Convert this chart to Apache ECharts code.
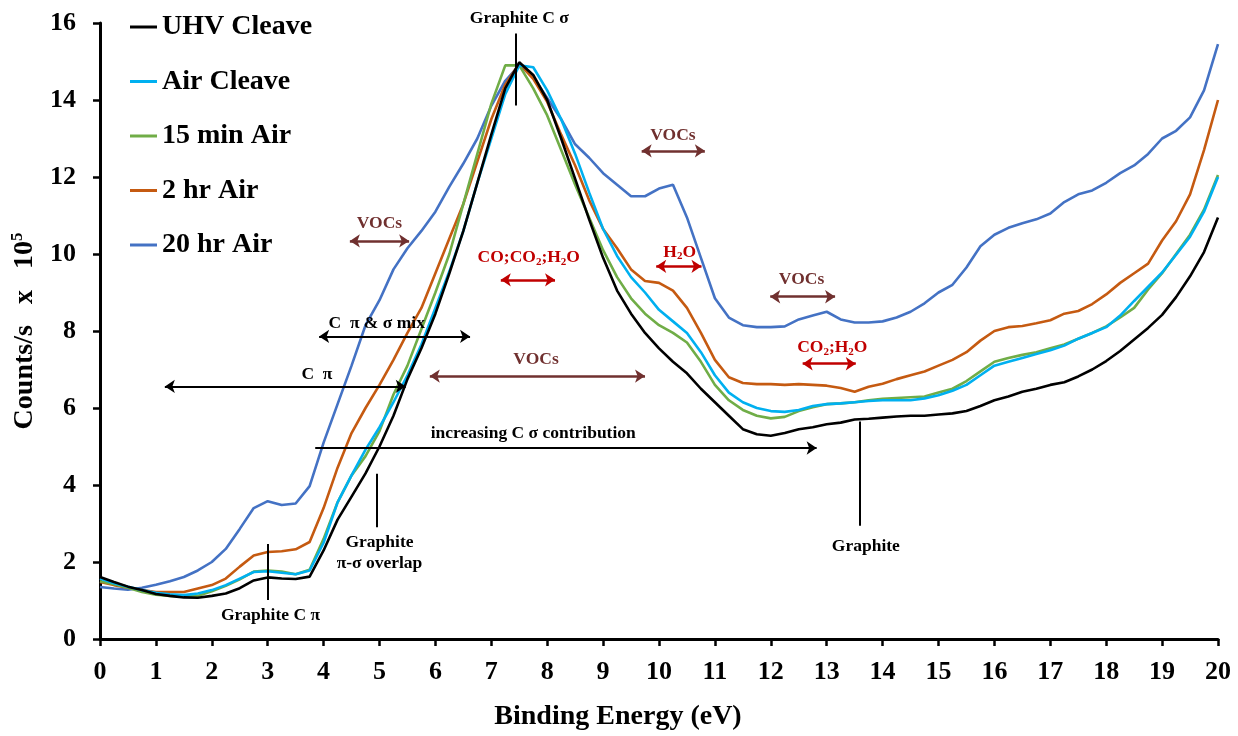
<!DOCTYPE html>
<html>
<head>
<meta charset="utf-8">
<script src="https://cdn.jsdelivr.net/npm/echarts@6/dist/echarts.min.js"></script>
<style>
html,body{margin:0;padding:0;background:#fff;}
#c{width:1238px;height:736px;}
</style>
</head>
<body>
<div id="c"></div>
<script>
// Binding energy (eV) sample positions
const energy = [0,0.25,0.5,0.75,1,1.25,1.5,1.75,2,2.25,2.5,2.75,3,3.25,3.5,3.75,4,4.25,4.5,4.75,5,5.25,5.5,5.75,6,6.25,6.5,6.75,7,7.25,7.5,7.75,8,8.25,8.5,8.75,9,9.25,9.5,9.75,10,10.25,10.5,10.75,11,11.25,11.5,11.75,12,12.25,12.5,12.75,13,13.25,13.5,13.75,14,14.25,14.5,14.75,15,15.25,15.5,15.75,16,16.25,16.5,16.75,17,17.25,17.5,17.75,18,18.25,18.5,18.75,19,19.25,19.5,19.75,20];

const seriesNames = ['UHV Cleave','Air Cleave','15 min Air','2 hr Air','20 hr Air'];

const uhvCleave = [1.61,1.48,1.36,1.27,1.17,1.12,1.08,1.07,1.12,1.18,1.32,1.52,1.60,1.57,1.56,1.62,2.30,3.10,3.70,4.30,5.00,5.80,6.75,7.55,8.45,9.50,10.60,11.85,13.10,14.30,14.98,14.65,14.00,13.00,11.95,10.90,9.90,9.05,8.45,7.95,7.55,7.20,6.90,6.50,6.15,5.80,5.45,5.32,5.28,5.35,5.45,5.50,5.58,5.62,5.70,5.72,5.75,5.78,5.80,5.80,5.83,5.86,5.92,6.05,6.20,6.30,6.42,6.50,6.60,6.67,6.82,7.00,7.22,7.48,7.78,8.08,8.42,8.88,9.42,10.05,10.95];

const airCleave = [1.57,1.45,1.36,1.27,1.20,1.16,1.14,1.18,1.27,1.40,1.57,1.74,1.76,1.72,1.68,1.78,2.50,3.55,4.25,4.92,5.50,6.15,6.85,7.65,8.60,9.55,10.60,11.85,13.00,14.15,14.90,14.85,14.25,13.50,12.60,11.60,10.65,9.95,9.40,9.00,8.55,8.25,7.95,7.45,6.85,6.40,6.15,6.00,5.92,5.90,5.95,6.05,6.10,6.12,6.15,6.18,6.20,6.20,6.20,6.25,6.33,6.45,6.60,6.85,7.10,7.20,7.30,7.40,7.50,7.62,7.80,7.95,8.10,8.40,8.78,9.15,9.52,9.98,10.45,11.10,12.00];

const air15min = [1.50,1.42,1.33,1.22,1.15,1.12,1.10,1.12,1.24,1.38,1.55,1.75,1.78,1.75,1.68,1.80,2.60,3.55,4.25,4.75,5.40,6.35,7.10,8.05,9.00,10.00,11.30,12.60,13.90,14.90,14.90,14.30,13.60,12.70,11.80,10.95,10.10,9.40,8.85,8.45,8.15,7.95,7.70,7.20,6.60,6.20,5.95,5.80,5.73,5.77,5.92,6.02,6.10,6.12,6.15,6.20,6.24,6.26,6.28,6.30,6.40,6.50,6.70,6.95,7.20,7.30,7.38,7.45,7.55,7.65,7.80,7.95,8.12,8.35,8.60,9.08,9.50,10.00,10.50,11.15,12.05];

const air2hr = [1.48,1.40,1.33,1.27,1.22,1.22,1.22,1.31,1.40,1.57,1.88,2.17,2.26,2.28,2.33,2.52,3.40,4.45,5.35,6.00,6.60,7.25,7.95,8.60,9.50,10.40,11.30,12.40,13.50,14.40,14.95,14.55,13.95,13.10,12.30,11.40,10.65,10.15,9.60,9.30,9.25,9.05,8.60,7.95,7.25,6.80,6.65,6.62,6.62,6.60,6.62,6.60,6.58,6.52,6.42,6.55,6.63,6.75,6.85,6.95,7.10,7.25,7.45,7.75,8.00,8.10,8.13,8.20,8.28,8.45,8.52,8.70,8.95,9.25,9.50,9.75,10.35,10.85,11.55,12.70,14.00];

const air20hr = [1.35,1.31,1.28,1.33,1.41,1.50,1.61,1.78,2.00,2.34,2.86,3.40,3.58,3.48,3.52,3.97,5.10,6.10,7.10,8.15,8.80,9.60,10.15,10.60,11.10,11.75,12.35,13.00,13.85,14.50,14.90,14.60,14.05,13.50,12.85,12.50,12.10,11.80,11.50,11.50,11.70,11.80,10.95,9.90,8.85,8.35,8.15,8.10,8.10,8.12,8.30,8.40,8.50,8.30,8.22,8.22,8.25,8.35,8.50,8.72,9.00,9.20,9.65,10.20,10.50,10.68,10.80,10.90,11.05,11.35,11.55,11.65,11.85,12.10,12.30,12.60,13.00,13.20,13.55,14.25,15.45];

const xTicks = [0,1,2,3,4,5,6,7,8,9,10,11,12,13,14,15,16,17,18,19,20];
const yTicks = [0,2,4,6,8,10,12,14,16];

// Annotations (data coordinates)
const arrowLines = [
  {from:[9.69,12.68], to:[10.82,12.68], kind:'voc', ends:'both'},
  {from:[9.95,9.68], to:[10.76,9.68], kind:'red', ends:'both'},
  {from:[7.17,9.33], to:[8.14,9.33], kind:'red', ends:'both'},
  {from:[11.99,8.89], to:[13.15,8.89], kind:'voc', ends:'both'},
  {from:[12.57,7.15], to:[13.52,7.15], kind:'red', ends:'both'},
  {from:[4.47,10.34], to:[5.53,10.34], kind:'voc', ends:'both'},
  {from:[3.92,7.86], to:[6.62,7.86], kind:'blk', ends:'both'},
  {from:[1.16,6.56], to:[5.47,6.56], kind:'blk', ends:'both'},
  {from:[5.90,6.83], to:[9.75,6.83], kind:'voc', ends:'both'},
  {from:[3.85,4.96], to:[12.82,4.96], kind:'blk', ends:'end'},
  {from:[7.44,15.73], to:[7.44,13.86], kind:'blk', ends:'none'},
  {from:[3.0,2.47], to:[3.0,1.01], kind:'blk', ends:'none'},
  {from:[4.95,4.29], to:[4.95,2.90], kind:'blk', ends:'none'},
  {from:[13.6,5.65], to:[13.6,2.94], kind:'blk', ends:'none'}
];
const noteTexts = [
  {at:[7.5,16.0], text:'{k|Graphite C σ}', dy:-5},
  {at:[10.25,13.08], text:'{v|VOCs}', dy:0},
  {at:[10.37,10.05], text:'{r|H}{rs|2}{r|O}', dy:0},
  {at:[7.67,9.9], text:'{r|CO;CO}{rs|2}{r|;H}{rs|2}{r|O}', dy:0},
  {at:[12.55,9.33], text:'{v|VOCs}', dy:0},
  {at:[13.1,7.58], text:'{r|CO}{rs|2}{r|;H}{rs|2}{r|O}', dy:0},
  {at:[5.0,10.8], text:'{v|VOCs}', dy:0},
  {at:[4.95,8.2], text:'{k|C  π & σ mix}', dy:0},
  {at:[3.88,6.86], text:'{k|C  π}', dy:0},
  {at:[7.8,7.26], text:'{v|VOCs}', dy:0},
  {at:[7.75,5.35], text:'{k|increasing C σ contribution}', dy:0},
  {at:[3.05,0.6], text:'{k|Graphite C π}', dy:0},
  {at:[5.0,2.5], text:'{k|Graphite}', dy:0},
  {at:[5.0,1.95], text:'{k|π-σ overlap}', dy:0},
  {at:[13.7,2.4], text:'{k|Graphite}', dy:0}
];

const FONT = '"Liberation Serif","Times New Roman",serif';
const colors = ['#000000','#00B0F0','#70AD47','#C55A11','#4472C4'];
const kindColor = {voc:'#70302F', red:'#C00000', blk:'#000000'};
const kindWidth = {voc:2.5, red:2.5, blk:2};

const allData = [uhvCleave, airCleave, air15min, air2hr, air20hr];
const lineSeries = seriesNames.map((n,i)=>({
  name:n, type:'line', symbol:'none', showSymbol:false,
  data: energy.map((e,j)=>[e, allData[i][j]]),
  lineStyle:{color:colors[i], width:2.6},
  itemStyle:{color:colors[i]},
  z: 5-i
}));

const richBase = {
  k:{fontFamily:FONT,fontWeight:'bold',fontSize:17.5,color:'#000',lineHeight:20},
  v:{fontFamily:FONT,fontWeight:'bold',fontSize:17.5,color:'#70302F',lineHeight:20},
  r:{fontFamily:FONT,fontWeight:'bold',fontSize:17.5,color:'#C00000',lineHeight:20},
  rs:{fontFamily:FONT,fontWeight:'bold',fontSize:11,color:'#C00000',lineHeight:12,verticalAlign:'bottom'}
};

const markLineData = arrowLines.map(a=>{
  const s0 = (a.ends==='both') ? 'arrow' : 'none';
  const s1 = (a.ends==='none') ? 'none' : 'arrow';
  return [
    {coord:a.from, symbol:s0, symbolSize:10, lineStyle:{color:kindColor[a.kind], width:kindWidth[a.kind], type:'solid'}},
    {coord:a.to, symbol:s1, symbolSize:10}
  ];
});

const annoSeries = {
  name:'annotations', type:'line', data:[], clip:false, silent:true, symbol:'none',
  markLine:{silent:true, animation:false, label:{show:false}, symbol:['arrow','arrow'],
    emphasis:{disabled:true}, data:markLineData},
  markPoint:{silent:true, animation:false, symbol:'rect', symbolSize:1,
    itemStyle:{color:'rgba(0,0,0,0)'},
    label:{show:true, position:'inside', rich:richBase},
    data: noteTexts.map(t=>({coord:t.at, label:{formatter:t.text, rich:richBase, offset:[0,t.dy]}}))
  }
};

const chart = echarts.init(document.getElementById('c'), null, {renderer:'canvas'});
chart.setOption({
  animation:false,
  backgroundColor:'#ffffff',
  grid:{left:100, right:20, top:23, bottom:92, containLabel:false},
  legend:{
    data:seriesNames, orient:'vertical', left:130, top:12, padding:0,
    icon:'rect', itemWidth:27, itemHeight:3, itemGap:24.5,
    textStyle:{fontFamily:FONT, fontWeight:'bold', fontSize:28, color:'#000', lineHeight:30, padding:[0,0,0,0]},
    selectedMode:false
  },
  xAxis:{
    type:'value', min:0, max:20, interval:1,
    name:'Binding Energy (eV)', nameLocation:'middle', nameGap:64,
    nameTextStyle:{fontFamily:FONT, fontWeight:'bold', fontSize:28, color:'#000', padding:[0,82,0,0]},
    axisLine:{show:true, onZero:false, lineStyle:{color:'#000', width:3}},
    axisTick:{show:true, inside:false, length:7, lineStyle:{color:'#000', width:2.5}},
    axisLabel:{fontFamily:FONT, fontWeight:'bold', fontSize:26, color:'#000', margin:20,
      formatter:(v)=> xTicks.includes(v) ? String(v) : ''},
    splitLine:{show:false}
  },
  yAxis:{
    type:'value', min:0, max:16, interval:2,
    name:'{a|Counts/s   x   10}{b|5}', nameLocation:'middle', nameGap:51,
    nameTextStyle:{rich:{
      a:{fontFamily:FONT, fontWeight:'bold', fontSize:28, color:'#000', lineHeight:32},
      b:{fontFamily:FONT, fontWeight:'bold', fontSize:17, color:'#000', lineHeight:16, verticalAlign:'top'}
    }},
    axisLine:{show:true, onZero:false, lineStyle:{color:'#000', width:3}},
    axisTick:{show:true, inside:false, length:7, lineStyle:{color:'#000', width:2.5}},
    axisLabel:{fontFamily:FONT, fontWeight:'bold', fontSize:26, color:'#000', margin:24,
      formatter:(v)=> yTicks.includes(v) ? String(v) : ''},
    splitLine:{show:false}
  },
  series: lineSeries.concat([annoSeries])
});
</script>
</body>
</html>
